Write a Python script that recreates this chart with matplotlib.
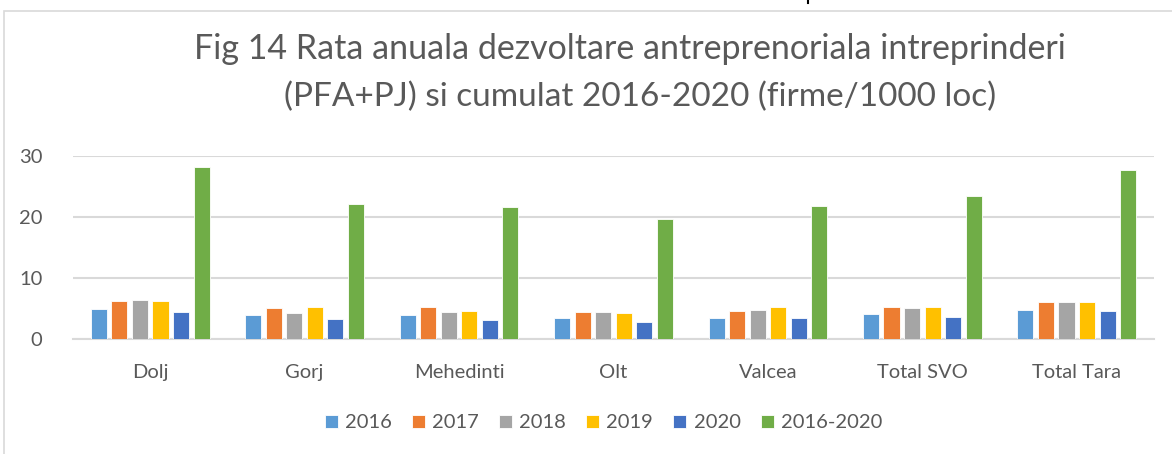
import matplotlib.pyplot as plt
import numpy as np
from matplotlib.patches import Rectangle
from matplotlib.lines import Line2D

plt.rcParams['font.family'] = ['Lato', 'DejaVu Sans']

# date
judete = ["Dolj", "Gorj", "Mehedinti", "Olt", "Valcea", "Total SVO", "Total Tara"]
serii = ["2016", "2017", "2018", "2019", "2020", "2016-2020"]
v2016 = [4.9, 4.0, 4.0, 3.5, 3.45, 4.07, 4.8]
v2017 = [6.3, 5.1, 5.2, 4.45, 4.7, 5.3, 6.15]
v2018 = [6.45, 4.3, 4.5, 4.45, 4.8, 5.1, 6.1]
v2019 = [6.2, 5.2, 4.7, 4.25, 5.3, 5.3, 6.05]
v2020 = [4.4, 3.3, 3.1, 2.8, 3.5, 3.6, 4.6]
cumulat = [28.1, 22.05, 21.6, 19.6, 21.85, 23.4, 27.65]
culori = ["#5B9BD5", "#ED7D31", "#A5A5A5", "#FFC000", "#4472C4", "#70AD47"]

valori = [v2016, v2017, v2018, v2019, v2020, cumulat]

fig = plt.figure(figsize=(11.72, 4.54), dpi=100)
ax = fig.add_axes([0.0623, 0.2527, 0.9223, 0.4043])

x = np.arange(len(judete))
pas = 0.133
latime = 0.104
for i, (nume, val, c) in enumerate(zip(serii, valori, culori)):
    ax.bar(x + (i - 2.5) * pas, val, latime, color=c, label=nume,
           edgecolor="white", linewidth=0.6, zorder=3)

ax.set_xlim(-0.5, len(judete) - 0.5)
ax.set_ylim(0, 30)
ax.set_yticks([0, 10, 20, 30])
ax.set_xticks(x)
ax.set_xticklabels(judete)
ax.grid(axis="y", color="#D9D9D9", linewidth=1.5, zorder=0)
for s in ["top", "right", "left"]:
    ax.spines[s].set_visible(False)
ax.spines["bottom"].set_color("#D9D9D9")
ax.spines["bottom"].set_linewidth(1.5)
ax.tick_params(axis="both", length=0, labelsize=14.5, labelcolor="#595959")
ax.tick_params(axis="x", pad=18)
ax.tick_params(axis="y", pad=22)

titlu1 = "Fig 14 Rata anuala dezvoltare antreprenoriala intreprinderi"
titlu2 = "(PFA+PJ) si cumulat 2016-2020 (firme/1000 loc)"
fig.text(0.5375, 1 - 49 / 454, titlu1, ha="center", va="center", fontsize=24.5, color="#595959")
fig.text(0.546, 1 - 97 / 454, titlu2, ha="center", va="center", fontsize=24, color="#595959")

ax.legend(loc="center", bbox_to_anchor=(0.515, 1 - 423 / 454), bbox_transform=fig.transFigure,
          ncol=6, frameon=False, fontsize=14.5, labelcolor="#595959",
          handlelength=0.65, handleheight=0.65, handletextpad=0.35, columnspacing=1.0)

# chenarul graficului
fig.patches.append(Rectangle((4 / 1172, -0.1), 1.2, 1 - 11 / 454 + 0.1,
                             transform=fig.transFigure, fill=False,
                             edgecolor="#D9D9D9", linewidth=1.2))
# urma de litera de deasupra chenarului
fig.lines.append(Line2D([808 / 1172, 808 / 1172], [1.0, 1 - 3 / 454],
                        transform=fig.transFigure, color="black", linewidth=1.5))

fig.savefig("out.png", dpi=100)
